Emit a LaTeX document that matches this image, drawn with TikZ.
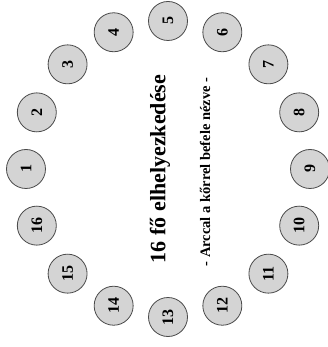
\documentclass[tikz,border=0pt]{standalone}
\usepackage{fontspec}
\setmainfont{Liberation Serif}
\definecolor{seatfill}{HTML}{D4D4D4}
\definecolor{seatline}{HTML}{4A4A4A}

\begin{document}
\begin{tikzpicture}[x=1pt, y=1pt,
    seat/.style={circle, draw=seatline, fill=seatfill, line width=0.8pt, minimum size=39pt, inner sep=0pt, font=\bfseries\fontsize{16}{16}\selectfont, rotate=90}]
    \useasboundingbox (-168,-178) rectangle (159,169);
    % ========== 16 hely körben ==========
    \foreach \i in {1,...,16} {
        \pgfmathsetmacro{\ang}{180-(\i-1)*22.5}
        \node[seat] (p\i) at ({142*cos(\ang)}, {148*sin(\ang)}) {\i};
    }
    % ========== felirat ==========
    \node[rotate=90, font=\bfseries\fontsize{22}{22}\selectfont] (title) at (-8,0) {16 fő elhelyezkedése};
    \node[rotate=90, font=\bfseries\fontsize{14.5}{14.5}\selectfont] (subtitle) at (37,-3) {- Arccal a kőrrel befele nézve -};
\end{tikzpicture}
\end{document}
